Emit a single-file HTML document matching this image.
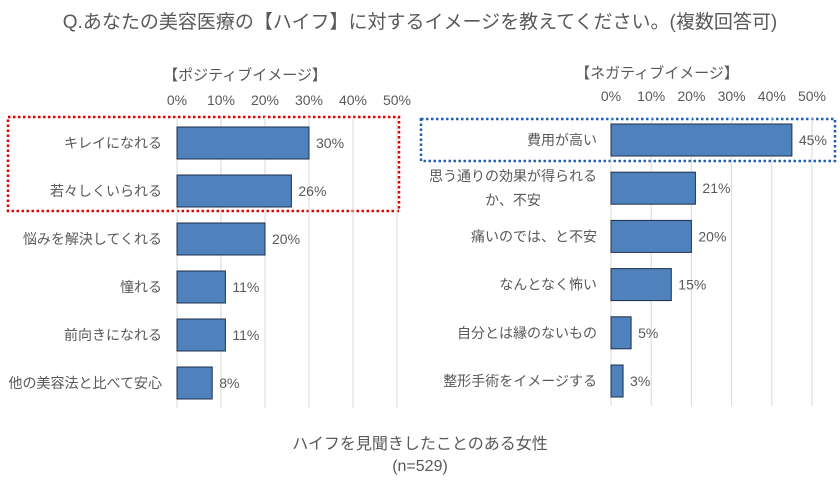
<!DOCTYPE html>
<html><head><meta charset="utf-8"><style>
body{margin:0;background:#fff;width:840px;height:493px;overflow:hidden;font-family:"Liberation Sans","Noto Sans CJK JP",sans-serif;}
svg text{font-family:"Liberation Sans","Noto Sans CJK JP",sans-serif;fill:#595959;}
</style></head><body>
<svg id="c" width="840" height="493">
<text x="420" y="28" font-size="19" text-anchor="middle">Q.あなたの美容医療の【ハイフ】に対するイメージを教えてください。(複数回答可)</text>
<text x="245" y="80" font-size="15" text-anchor="middle" fill="#404040">【ポジティブイメージ】</text>
<text x="657" y="78" font-size="15" text-anchor="middle" fill="#404040">【ネガティブイメージ】</text>
<text x="420" y="449" font-size="16" text-anchor="middle">ハイフを見聞きしたことのある女性</text>
<text x="420" y="471" font-size="16" text-anchor="middle">(n=529)</text>
<rect x="8" y="117" width="391" height="94" fill="none" stroke="#e00000" stroke-width="2.5" stroke-dasharray="2.5,2.5"/>
<rect x="421" y="119" width="414" height="42" fill="none" stroke="#1f5fb5" stroke-width="2.5" stroke-dasharray="2.5,2.5"/>
</svg>
<script>
const posCats=["キレイになれる","若々しくいられる","悩みを解決してくれる","憧れる","前向きになれる","他の美容法と比べて安心"];
const posVals=[30,26,20,11,11,8];
const negCats=[["費用が高い"],["思う通りの効果が得られる","か、不安"],["痛いのでは、と不安"],["なんとなく怖い"],["自分とは縁のないもの"],["整形手術をイメージする"]];
const negVals=[45,21,20,15,5,3];
const ticks=[0,10,20,30,40,50];
const svg=document.getElementById('c');
const NS='http://www.w3.org/2000/svg';
function mk(t,a){const e=document.createElementNS(NS,t);for(const k in a)e.setAttribute(k,a[k]);svg.appendChild(e);return e;}
function chart(p,cats,vals,side){
  const x=v=>p.x0+(p.x1-p.x0)*v/50;
  const y=i=>p.y0+i*p.step;
  ticks.forEach(t=>{
    const g=mk('line',{x1:x(t),x2:x(t),y1:p.gt,y2:p.gb,stroke:'#d9d9d9','stroke-width':1});
    
    
    const l=mk('text',{x:x(t),y:p.ty,'font-size':14,'text-anchor':'middle'});
    l.textContent=t+'%';
    
    
  });
  vals.forEach((v,i)=>{
    const b=mk('rect',{x:x(0),y:y(i)-16,width:x(v)-x(0),height:32,fill:'#4f81bd',stroke:'#1f2f4a','stroke-width':1});
    
    
    const vl=mk('text',{x:x(v)+7,y:y(i)+5,'font-size':14});
    vl.textContent=v+'%';
    
    
    const lines=Array.isArray(cats[i])?cats[i]:[cats[i]];
    if(lines.length===1){
      const cl=mk('text',{x:p.lx,y:y(i)+5,'font-size':14,'text-anchor':'end'});
      cl.textContent=lines[0];
      
      
    } else {
      const cl=mk('text',{x:p.lx,y:y(i)-7,'font-size':14,'text-anchor':'end'});
      cl.textContent=lines[0];
      
      
      const w=cl.getComputedTextLength();
      const c2=mk('text',{x:p.lx-w/2,y:y(i)+17,'font-size':14,'text-anchor':'middle'});
      c2.textContent=lines[1];
      
      
    }
  });
}
chart({x0:177,x1:397,y0:143,step:48,gt:117,gb:408,ty:105,lx:162},posCats,posVals,'positive');
chart({x0:611,x1:812,y0:140,step:48.2,gt:117,gb:406,ty:101,lx:597},negCats,negVals,'negative');
</script>
</body></html>
